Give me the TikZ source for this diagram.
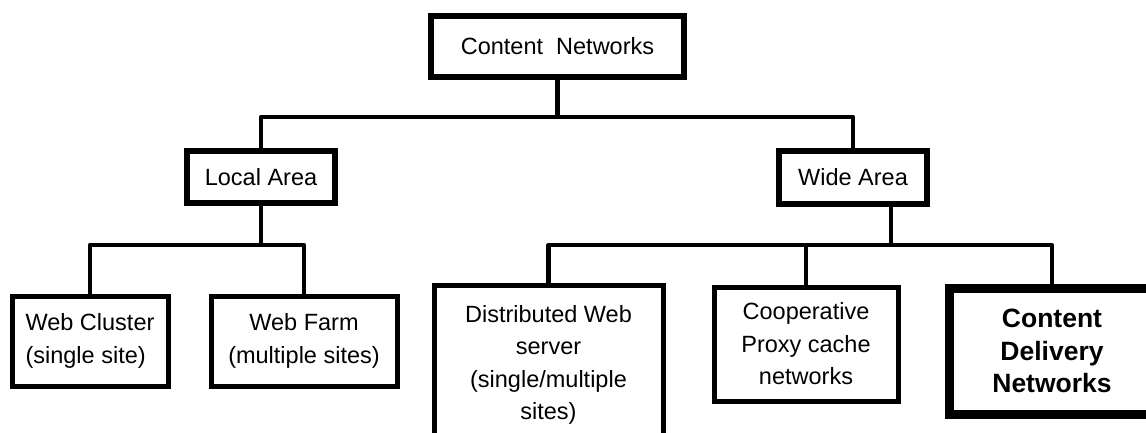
\documentclass[tikz,border=0pt]{standalone}
\usepackage{fontspec}
\setmainfont{Liberation Sans}
\begin{document}
\begin{tikzpicture}[x=1pt,y=-1pt,
  box/.style={draw=black,fill=white,rectangle,inner sep=0pt,align=center,
    font=\fontsize{23.5}{32.5}\selectfont,line width=5pt},
  bigbox/.style={box,line width=5.8pt},
  cdnbox/.style={box,line width=9pt,font=\fontsize{26.5}{32.5}\selectfont\bfseries},
  conn/.style={draw=black,line width=4.5pt,line join=round}]
\useasboundingbox (0,0) rectangle (1146,432);
\clip (0,0) rectangle (1146,432);
\fill[white] (0,0) rectangle (1146,432);
% boxes
\node[bigbox,minimum width=253pt,minimum height=61pt] (cn) at (557.5,46.5) {Content\ \ Networks};
\node[bigbox,minimum width=148pt,minimum height=52pt] (la) at (261,177) {Local Area};
\node[bigbox,minimum width=148pt,minimum height=53pt] (wa) at (853,177.5) {Wide Area};
\node[box,minimum width=156pt,minimum height=90pt,align=left] (wc) at (90,341) {Web Cluster\\(single site)};
\node[box,minimum width=186pt,minimum height=90pt] (wf) at (304,341) {Web Farm\\(multiple sites)};
\node[box,minimum width=229pt,minimum height=160pt] (dw) at (548.5,365) {Distributed Web\\server\\(single/multiple\\sites)};
\node[box,minimum width=184pt,minimum height=114pt] (co) at (806,344) {Cooperative\\Proxy cache\\networks};
\node[cdnbox,minimum width=206pt,minimum height=126pt] (cdn) at (1052,351) {Content\\Delivery\\Networks};
% junctions
\coordinate (j1) at (557.5,117);
\coordinate (j2) at (261,245);
\coordinate (j3) at (891,245);
% connectors
\draw[conn] (cn.south) -- (j1);
\draw[conn] (la.north) |- (j1) -| (wa.north);
\draw[conn] (la.south) -- (j2);
\draw[conn] (wc.north) |- (j2) -| (wf.north);
\draw[conn] (wa.south -| j3) -- (j3);
\draw[conn] (dw.north) |- (j3) -| (cdn.north);
\draw[conn] (co.north) -- (co.north |- j3);
\end{tikzpicture}
\end{document}
